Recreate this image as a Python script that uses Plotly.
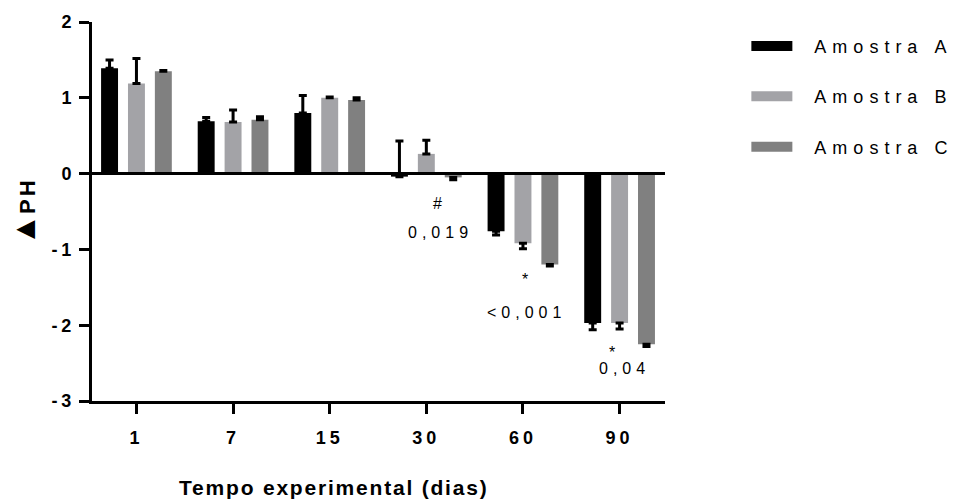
import plotly.graph_objects as go

# ---- data ----
categories = ["1", "7", "15", "30", "60", "90"]
series_names = ["Amostra A", "Amostra B", "Amostra C"]
series_colors = ["#000000", "#a3a3a7", "#808080"]

vals_a = [1.39, 0.69, 0.80, -0.04, -0.76, -1.97]
vals_b = [1.19, 0.68, 1.00, 0.26, -0.92, -1.97]
vals_c = [1.35, 0.71, 0.97, -0.05, -1.20, -2.25]

err_up_a = [0.11, 0.05, 0.23, 0.47, 0.0, 0.0]
err_dn_a = [0.0, 0.0, 0.0, 0.0, 0.05, 0.09]
err_up_b = [0.33, 0.16, 0.01, 0.18, 0.0, 0.0]
err_dn_b = [0.0, 0.0, 0.0, 0.0, 0.07, 0.08]
err_up_c = [0.01, 0.04, 0.03, 0.0, 0.0, 0.0]
err_dn_c = [0.0, 0.0, 0.0, 0.03, 0.02, 0.03]

y_tick_vals = [-3, -2, -1, 0, 1, 2]
y_tick_labels = ["-3", "-2", "-1", "0", "1", "2"]

annot_texts = ["#", "0,019", "*", "<0,001", "*", "0,04"]
annot_x = [3.14, 3.15, 4.05, 4.04, 4.95, 5.05]
annot_y = [-0.39, -0.78, -1.40, -1.83, -2.36, -2.57]

FONT = "Arial, Liberation Sans, sans-serif"


def ls(text, px):
    return f"<span style='letter-spacing:{px}px'>{text}</span>"


def ls_notrail(text, px):
    # letter-spaced, without trailing space after the last glyph
    return ls(text[:-1], px) + text[-1]


fig = go.Figure()
all_vals = [vals_a, vals_b, vals_c]
all_up = [err_up_a, err_up_b, err_up_c]
all_dn = [err_dn_a, err_dn_b, err_dn_c]
for name, vals, up, dn, col in zip(series_names, all_vals, all_up, all_dn, series_colors):
    fig.add_trace(go.Bar(
        x=categories, y=vals, name=name, showlegend=False,
        marker=dict(color=col, line=dict(width=0)),
        error_y=dict(type="data", symmetric=False, array=up, arrayminus=dn,
                     color="black", thickness=3, width=4),
    ))

# legend entries (wide swatches)
for i, (name, col) in enumerate(zip(series_names, series_colors)):
    fig.add_trace(go.Scatter(
        x=[None], y=[None], mode="lines", name=ls_notrail(name, 6.0),
        line=dict(color=col, width=15, dash="41px,300px"), legendgroup=f"g{i}",
    ))

fig.add_hline(y=0, line_width=3, line_color="black", layer="above")

for t, xx, yy in zip(annot_texts, annot_x, annot_y):
    fig.add_annotation(x=xx, y=yy, xref="x", yref="y", text=ls(t, 5),
                       showarrow=False, font=dict(family=FONT, size=16, color="black"))

fig.add_annotation(x=0.422, y=-0.228, xref="paper", yref="paper",
                   text=ls("Tempo experimental (dias)", 1.8), showarrow=False,
                   xanchor="center", yanchor="middle",
                   font=dict(family=FONT, size=21, color="black", weight="bold"))

fig.update_layout(
    width=965, height=502, autosize=False,
    margin=dict(l=92, r=297, t=18, b=101),
    plot_bgcolor="white", paper_bgcolor="white",
    barmode="group", bargap=0.165, bargroupgap=0.37,
    font=dict(family=FONT, color="black"),
    legend=dict(x=1.142, y=0.985, xanchor="left", yanchor="top",
                font=dict(family=FONT, size=18, color="black"),
                itemwidth=58, tracegroupgap=24, bgcolor="rgba(0,0,0,0)"),
    xaxis=dict(type="category", range=[-0.46, 5.47],
               tickvals=categories, ticktext=[ls(c, 4) for c in categories],
               showline=True, linecolor="black", linewidth=3,
               ticks="outside", ticklen=10, tickwidth=3, tickcolor="black",
               ticklabelstandoff=8,
               tickfont=dict(family=FONT, size=18, color="black", weight="bold"),
               showgrid=False, zeroline=False),
    yaxis=dict(range=[-3, 2], tickvals=y_tick_vals,
               ticktext=[ls(t, 4) for t in y_tick_labels],
               showline=True, linecolor="black", linewidth=3,
               ticks="outside", ticklen=10, tickwidth=3, tickcolor="black",
               tickfont=dict(family=FONT, size=18, color="black", weight="bold"),
               showgrid=False, zeroline=False,
               title=dict(text="<span style='font-size:32px'>▲</span>" + ls("PH", 3),
                          standoff=10,
                          font=dict(family=FONT, size=22, color="black", weight="bold"))),
)

fig.write_html("out.html")
